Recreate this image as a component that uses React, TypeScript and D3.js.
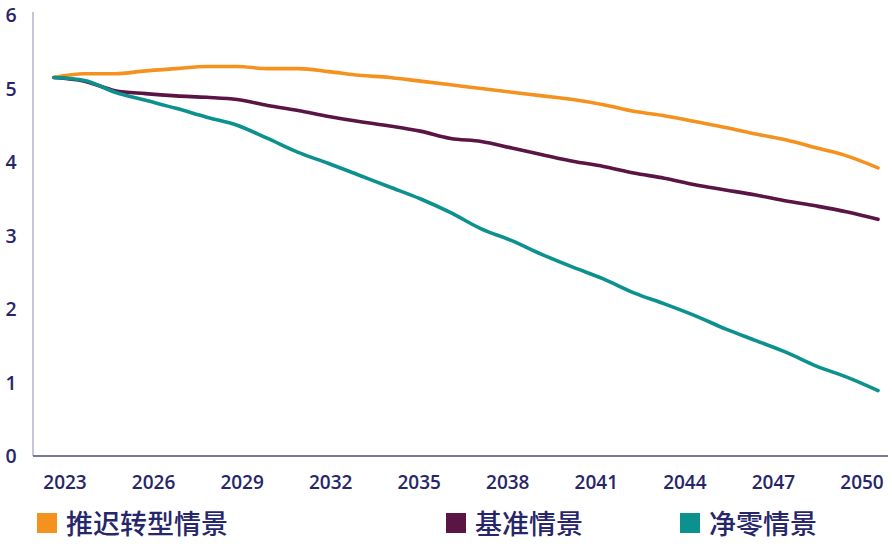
import React from "react";
import * as d3 from "d3";

const years: number[] = d3.range(2023, 2051);
const tickYears: number[] = [2023, 2026, 2029, 2032, 2035, 2038, 2041, 2044, 2047, 2050];
const yTicks: number[] = [0, 1, 2, 3, 4, 5, 6];

const delayed: number[] = [
  5.15, 5.2, 5.2, 5.24, 5.27, 5.3, 5.3, 5.27, 5.27, 5.23,
  5.18, 5.15, 5.1, 5.05, 5.0, 4.95, 4.9, 4.85, 4.78, 4.69,
  4.63, 4.55, 4.47, 4.38, 4.3, 4.19, 4.08, 3.92,
];
const baseline: number[] = [
  5.15, 5.1, 4.97, 4.93, 4.9, 4.88, 4.85, 4.77, 4.7, 4.62,
  4.55, 4.49, 4.42, 4.32, 4.28, 4.19, 4.1, 4.01, 3.94, 3.85,
  3.78, 3.69, 3.62, 3.55, 3.47, 3.4, 3.32, 3.22,
];
const netZero: number[] = [
  5.15, 5.11, 4.95, 4.84, 4.73, 4.61, 4.5, 4.32, 4.13, 3.98,
  3.82, 3.66, 3.5, 3.31, 3.09, 2.93, 2.74, 2.57, 2.41, 2.22,
  2.07, 1.91, 1.73, 1.57, 1.41, 1.22, 1.07, 0.89,
];

const seriesNames: string[] = ["推迟转型情景", "基准情景", "净零情景"];
const seriesColors: string[] = ["#f5911e", "#5a1545", "#0d918f"];
const seriesValues: number[][] = [delayed, baseline, netZero];

export default function App() {
  const W = 892;
  const H = 550;
  const x = d3.scaleLinear().domain([2023, 2050]).range([54, 878]);
  const xLabel = d3.scaleLinear().domain([2023, 2050]).range([65, 862]);
  const y = d3.scaleLinear().domain([0, 6]).range([456, 15]);
  const line = d3
    .line<number>()
    .x((_, i) => x(years[i]))
    .y((d) => y(d))
    .curve(d3.curveMonotoneX);

  const legendX = [37, 446, 680];
  const navy = "#27266a";
  const numFont = "'Open Sans', 'DejaVu Sans', sans-serif";

  return (
    <svg
      width={W}
      height={H}
      style={{ position: "absolute", left: 0, top: 0, background: "#fff" }}
    >
      {/* y axis line */}
      <line x1={33} x2={33} y1={12} y2={456} stroke="#c6c6da" strokeWidth={2} />
      {/* x axis line */}
      <line x1={33} x2={888} y1={456} y2={456} stroke="#4b4a7c" strokeWidth={1.5} />
      {yTicks.map((t) => (
        <text
          key={t}
          x={11}
          y={y(t)}
          dy="0.36em"
          textAnchor="middle"
          fontFamily={numFont}
          fontWeight={600}
          fontSize={19.5}
          fill={navy}
        >
          {t}
        </text>
      ))}
      {tickYears.map((t) => (
        <text
          key={t}
          x={xLabel(t)}
          y={489}
          textAnchor="middle"
          fontFamily={numFont}
          fontWeight={600}
          fontSize={19}
          fill={navy}
        >
          {t}
        </text>
      ))}
      {seriesValues.map((vals, i) => (
        <path
          key={i}
          d={line(vals) || ""}
          fill="none"
          stroke={seriesColors[i]}
          strokeWidth={3.6}
          strokeLinejoin="round"
          strokeLinecap="round"
        />
      ))}
      {seriesNames.map((name, i) => (
        <g key={name}>
          <rect x={legendX[i]} y={513} width={20} height={20} fill={seriesColors[i]} />
          <text
            x={legendX[i] + 29}
            y={534}
            fontFamily="'Noto Sans CJK SC', sans-serif"
            fontWeight={500}
            fontSize={27}
            fill={navy}
          >
            {name}
          </text>
        </g>
      ))}
    </svg>
  );
}
